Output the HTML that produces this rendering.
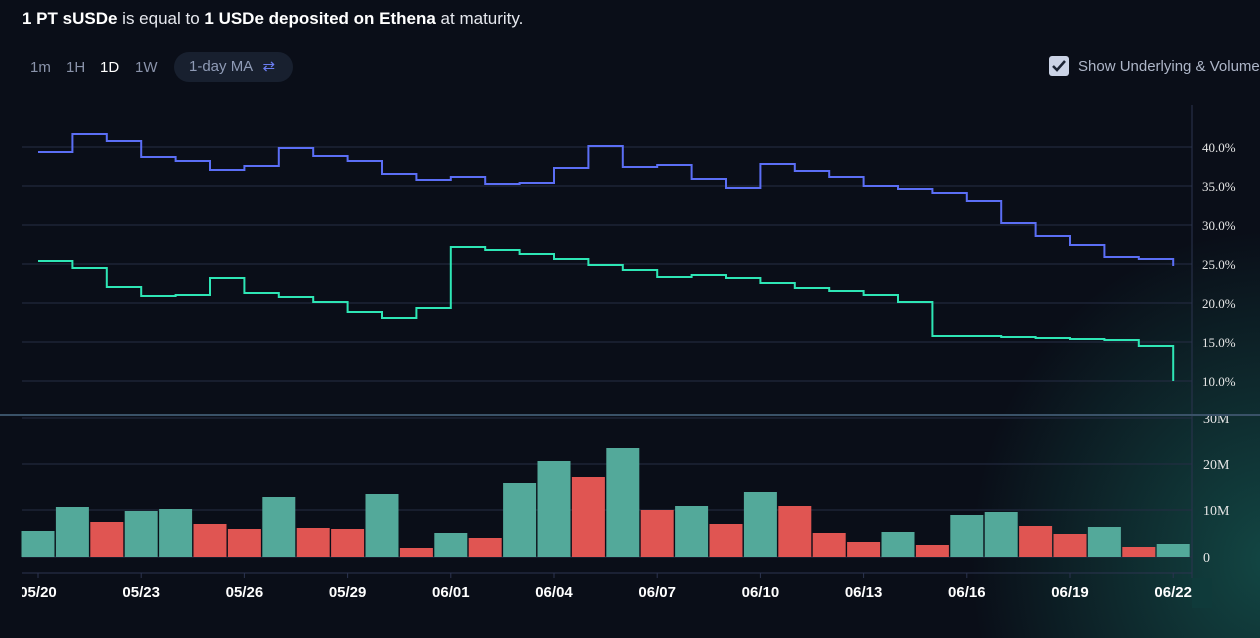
<!DOCTYPE html>
<html><head><meta charset="utf-8"><style>
body{margin:0;width:1260px;height:638px;overflow:hidden;background:#0a0e18;font-family:"Liberation Sans",sans-serif;position:relative}
.glow{position:absolute;left:0;top:0;width:1260px;height:638px;background:radial-gradient(ellipse 300px 330px at 1270px 560px,rgba(20,80,75,0.85),rgba(20,80,75,0) 100%)}
.t{position:absolute;left:22px;top:9px;color:#e6e8ee;font-size:17px}
.t b{color:#fff}
.tab{position:absolute;top:59px;color:#8a93aa;font-size:15px}
.pill{position:absolute;left:174px;top:52px;width:119px;height:30px;border-radius:15px;background:#18202f;color:#8f9bb6;font-size:15px;line-height:30px;padding-left:15px;box-sizing:border-box}
.cb{position:absolute;left:1049px;top:56px;width:20px;height:20px;background:#cbd3e6;border-radius:3px}
.cbt{position:absolute;left:1078px;top:58px;color:#aeb6c8;font-size:15px;white-space:nowrap}
svg{position:absolute;left:0;top:0}
</style></head><body>
<div class="glow"></div>
<div class="t"><b>1 PT sUSDe</b> is equal to <b>1 USDe deposited on Ethena</b> at maturity.</div>
<div class="tab" style="left:30px">1m</div><div class="tab" style="left:66px">1H</div><div class="tab" style="left:100px;color:#fff">1D</div><div class="tab" style="left:135px">1W</div>
<div class="pill">1-day MA <span style="color:#6a7cf0;margin-left:6px">⇄</span></div>
<div class="cb"><svg width="20" height="20" viewBox="0 0 20 20"><path d="M4 10l4 4 8-9" stroke="#1a2233" stroke-width="2.5" fill="none"/></svg></div>
<div class="cbt">Show Underlying &amp; Volume</div>
<svg id="s" width="1260" height="638"></svg>
<script>
const s=document.getElementById('s');let h='';
const grid=[[147,'40.0%'],[186,'35.0%'],[225,'30.0%'],[264,'25.0%'],[303,'20.0%'],[342,'15.0%'],[381,'10.0%']];
grid.forEach(g=>{h+=`<line x1="22" x2="1192" y1="${g[0]}" y2="${g[0]}" stroke="#262d45"/><text x="1202" y="${g[0]+5}" fill="#e6e6e6" font-family="Liberation Serif" font-size="13">${g[1]}</text>`});
[[418,'30M'],[464,'20M'],[510,'10M'],[557,'0']].forEach(g=>{h+=`<line x1="22" x2="1192" y1="${g[0]}" y2="${g[0]}" stroke="#262d45"/><text x="1203" y="${g[0]+5}" fill="#e6e6e6" font-family="Liberation Serif" font-size="14">${g[1]}</text>`});
h+=`<line x1="1192" x2="1192" y1="105" y2="578" stroke="#2c3450"/><line x1="0" x2="1260" y1="415" y2="415" stroke="#3a5268" stroke-width="2"/><line x1="22" x2="1192" y1="573" y2="573" stroke="#2c3450"/>`;
const X=i=>38+34.4*i;
const bars=[[531,'g'],[507,'g'],[522,'r'],[511,'g'],[509,'g'],[524,'r'],[529,'r'],[497,'g'],[528,'r'],[529,'r'],[494,'g'],[548,'r'],[533,'g'],[538,'r'],[483,'g'],[461,'g'],[477,'r'],[448,'g'],[510,'r'],[506,'g'],[524,'r'],[492,'g'],[506,'r'],[533,'r'],[542,'r'],[532,'g'],[545,'r'],[515,'g'],[512,'g'],[526,'r'],[534,'r'],[527,'g'],[547,'r'],[544,'g']];
bars.forEach((b,i)=>{h+=`<rect x="${X(i)-16.5}" y="${b[0]}" width="33" height="${557-b[0]}" fill="${b[1]=='g'?'#53a99a':'#e05552'}"/>`});
function step(v,end,c){let d=`M${X(0)} ${v[0]}`;v.forEach((y,i)=>{d+=` L${X(i)} ${y} L${X(i+1)} ${y}`});d+=` L${X(v.length)} ${end}`;h+=`<path d="${d}" fill="none" stroke="${c}" stroke-width="2"/>`}
step([152,134,141,157,161,170,166,148,156,161,174,180,177,184,183,168,146,167,165,179,188,164,171,177,186,189,193,201,223,236,245,257,259],266,'#5b6ef5');
step([261,268,287,296,295,278,293,297,302,312,318,308,247,250,254,259,265,270,277,275,278,283,288,291,295,302,336,336,337,338,339,340,346],381,'#2ee6b5');
['05/20','05/23','05/26','05/29','06/01','06/04','06/07','06/10','06/13','06/16','06/19','06/22'].forEach((l,k)=>{const x=X(3*k);h+=`<line x1="${x}" x2="${x}" y1="573" y2="578" stroke="#2c3450"/><text x="${x}" y="597" fill="#fff" font-weight="bold" font-size="15" text-anchor="middle">${l}</text>`});
h+=`<rect x="0" y="578" width="22" height="30" fill="#0a0e18"/><rect x="1192" y="578" width="20" height="30" fill="#0f3a3a"/>`;
s.innerHTML=h;
</script>
</body></html>
